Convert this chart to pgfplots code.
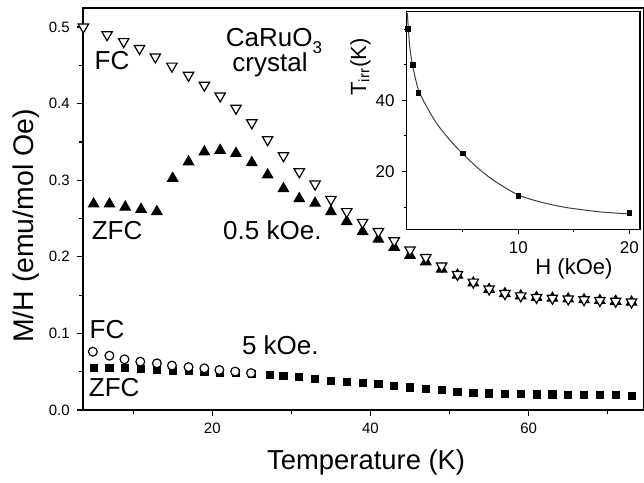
\documentclass[border=0pt]{standalone}
\usepackage{pgfplots}
\pgfplotsset{compat=1.18}
\usepackage{fontspec}
\setmainfont{Liberation Sans}

\pgfplotstableread{
T v
3.7 0.500
6.7 0.490
8.8 0.481
10.8 0.472
12.8 0.461
14.9 0.449
17.0 0.437
19.0 0.424
21.0 0.410
23.0 0.394
25.0 0.375
27.0 0.353
29.0 0.332
31.0 0.311
33.0 0.295
35.0 0.275
37.0 0.259
39.0 0.245
41.0 0.233
43.0 0.221
45.0 0.209
47.0 0.199
49.0 0.188
51.0 0.177
53.0 0.167
55.0 0.158
57.0 0.152
59.0 0.149
61.0 0.147
63.0 0.146
65.0 0.145
67.0 0.144
69.0 0.143
71.0 0.142
73.0 0.141
}\fcA

\pgfplotstableread{
T v
5.0 0.269
7.0 0.269
9.0 0.265
11.0 0.262
13.0 0.259
15.0 0.3025
17.0 0.324
19.0 0.337
21.0 0.339
23.0 0.335
25.0 0.323
27.0 0.307
29.0 0.289
31.0 0.276
33.0 0.270
35.0 0.259
37.0 0.246
39.0 0.233
41.0 0.223
43.0 0.2125
45.0 0.202
47.0 0.1935
49.0 0.184
51.0 0.176
53.0 0.166
55.0 0.1575
57.0 0.152
59.0 0.149
61.0 0.147
63.0 0.146
65.0 0.145
67.0 0.144
69.0 0.143
71.0 0.142
73.0 0.141
}\zfcA

\pgfplotstableread{
T v
4.9 0.0761
7.0 0.0709
8.9 0.0662
10.9 0.0631
13.0 0.0609
14.9 0.0580
17.0 0.0560
19.0 0.0544
20.9 0.0522
22.9 0.0502
24.9 0.0482
}\fcB

\pgfplotstableread{
T v
5 0.0545
7 0.0550
9 0.0550
11 0.0540
13 0.0530
15 0.0515
17 0.0510
19 0.0500
21 0.0490
23 0.0480
25 0.0470
27.3 0.0457
29 0.0444
31 0.0427
33 0.0405
35 0.0383
37 0.0362
39 0.0349
41 0.0336
43 0.0317
45 0.0296
47 0.0274
49 0.0265
51 0.0240
53 0.0225
55 0.0218
57 0.0210
59 0.0210
61 0.0205
63 0.0203
65 0.0200
67 0.0196
69 0.0195
71 0.0195
73 0.0188
}\zfcB

\pgfplotstableread{
H T
0.05 60.0
0.5 50.0
1 42.0
5 25.1
10 13.2
20 8.3
}\tirr

\pgfplotstableread{
H T
0 64.5
0.1 60.0
0.24 54.5
0.5 49.5
1 43.0
1.75 38.2
2.65 33.5
3.85 28.8
4.9 25.3
6.25 21.3
7.75 17.6
9.9 13.6
11.95 11.5
14.36 9.9
17.36 8.7
20 8.1
}\tfit

\begin{document}
\begin{tikzpicture}[x=1pt,y=1pt]
\begin{axis}[
  at={(41.35pt,36.5pt)}, anchor=south west,
  scale only axis, width=280.65pt, height=201.15pt,
  xmin=3.62, xmax=74.58, ymin=0, ymax=0.5253,
  xtick={20,40,60}, minor xtick={10,30,50,70},
  ytick={0,0.1,0.2,0.3,0.4,0.5}, minor ytick={0.05,0.15,0.25,0.35,0.45},
  scaled y ticks=false,
  yticklabel style={/pgf/number format/.cd, fixed, fixed zerofill, precision=1},
  /pgf/number format/assume math mode=true,
  tick label style={font=\fontsize{7.5}{9}\selectfont},
  tick align=outside, xtick pos=bottom, ytick pos=left,
  major tick length=3pt, minor tick length=2pt,
  every tick/.style={black, line width=0.6pt},
  axis line style={line width=1pt},
  xlabel={Temperature (K)},
  ylabel={M/H (emu/mol Oe)},
  xlabel style={font=\fontsize{13.7}{16}\selectfont, at={(axis description cs:0.505,-0.149)}, anchor=base},
  ylabel style={font=\fontsize{14.2}{16}\selectfont, at={(axis description cs:-0.0885,0.457)}, anchor=base, rotate=0},
  clip=false,
]
\addplot[only marks, mark=triangle*, mark size=3pt, mark options={fill=black, draw=black, line width=0.5pt}] table[x=T,y=v] {\zfcA};
\addplot[only marks, mark=triangle*, mark size=3pt, mark options={rotate=180, fill=white, draw=black, line width=0.6pt}] table[x=T,y=v] {\fcA};
\addplot[only marks, mark=square*, mark size=1.8pt, mark options={fill=black, draw=black}] table[x=T,y=v] {\zfcB};
\addplot[only marks, mark=*, mark size=2.2pt, mark options={fill=white, draw=black, line width=0.6pt}] table[x=T,y=v] {\fcB};
\begin{scope}[every node/.style={font=\fontsize{13}{15}\selectfont, anchor=base, inner sep=0pt}]
\node at (axis cs:7.33,0.444) {FC};
\node at (axis cs:7.96,0.222) {ZFC};
\node at (axis cs:27.8,0.4745) {CaRuO\raisebox{-0.25em}{\fontsize{8.5}{9}\selectfont 3}};
\node at (axis cs:27.3,0.4415) {crystal};
\node at (axis cs:27.6,0.222) {0.5 kOe.};
\node at (axis cs:6.7,0.094) {FC};
\node at (axis cs:7.6,0.017) {ZFC};
\node at (axis cs:28.6,0.072) {5 kOe.};
\end{scope}
\end{axis}

\begin{axis}[
  at={(203.35pt,126.85pt)}, anchor=south west,
  scale only axis, width=116.65pt, height=108.8pt,
  xmin=-0.054, xmax=20.96, ymin=3.8, ymax=64.9,
  xtick={10,20}, minor xtick={5,15},
  ytick={20,40}, minor ytick={10,30,50,60},
  /pgf/number format/assume math mode=true,
  tick label style={font=\fontsize{8.5}{10}\selectfont},
  tick align=outside, xtick pos=bottom, ytick pos=left,
  major tick length=2.5pt, minor tick length=1.5pt,
  every tick/.style={black, line width=0.5pt},
  axis line style={line width=0.6pt},
  axis background/.style={fill=white},
  xlabel={H (kOe)},
  ylabel={T$_{\mbox{\fontsize{7.5}{8}\selectfont irr}}$(K)},
  xlabel style={font=\fontsize{11}{13}\selectfont, at={(axis description cs:0.717,-0.21)}, anchor=base},
  ylabel style={font=\fontsize{11}{13}\selectfont, at={(axis description cs:-0.174,0.746)}, anchor=base},
]
\addplot[smooth, tension=0.5, line width=0.5pt, black!75, no marks] table[x=H,y=T] {\tfit};
\addplot[only marks, mark=square*, mark size=1.2pt, mark options={fill=black, draw=black}] table[x=H,y=T] {\tirr};
\end{axis}
\pgfresetboundingbox
\path (0,0) rectangle (322,241.5);
\end{tikzpicture}
\end{document}
